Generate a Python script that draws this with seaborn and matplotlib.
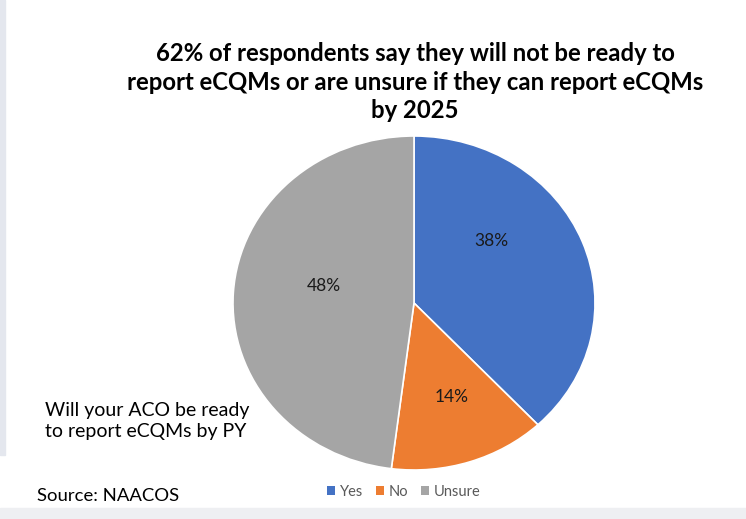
import matplotlib
matplotlib.use("Agg")
import matplotlib.pyplot as plt
import seaborn as sns
from matplotlib.patches import Rectangle

sns.set_theme(style="white")
plt.rcParams['font.family'] = ['Lato', 'DejaVu Sans']

categories = ["Yes", "No", "Unsure"]
values = [38, 14, 48]
pct_labels = ["38%", "14%", "48%"]
title = "62% of respondents say they will not be ready to\nreport eCQMs or are unsure if they can report eCQMs\nby 2025"
question = "Will your ACO be ready\nto report eCQMs by PY"
source = "Source: NAACOS"

colors = ["#4472C4", "#ED7D31", "#A5A5A5"]
label_pos = [(0.43, 0.37), (0.21, -0.56), (-0.50, 0.10)]

W, H = 746, 519
fig = plt.figure(figsize=(W / 100, H / 100), dpi=100)
fig.patch.set_facecolor("white")

# light frame strips
fig.patches.append(Rectangle((0, 0), 1, 11 / H, transform=fig.transFigure, color="#EEEFF2", zorder=0))
fig.patches.append(Rectangle((0, 64 / H), 5 / W, 1 - 64 / H, transform=fig.transFigure, color="#E4E7EE", zorder=0))

cx, cy, rx, ry = 414, 303, 181, 167
ax = fig.add_axes([(cx - rx) / W, (H - cy - ry) / H, 2 * rx / W, 2 * ry / H])
wedges, _ = ax.pie(values, colors=colors, startangle=90, counterclock=False,
                   radius=1, wedgeprops=dict(edgecolor="white", linewidth=1.2))
ax.set_xlim(-1, 1)
ax.set_ylim(-1, 1)
ax.set_aspect("auto")
ax.axis("off")

for (x, y), t in zip(label_pos, pct_labels):
    ax.text(x, y, t, ha="center", va="center", fontsize=12.5, color="#1a1a1a")

fig.text(415 / W, 1 - 82 / H, title, ha="center", va="center", fontsize=17.2,
         fontweight="bold", color="black", linespacing=1.3)
fig.text(45 / W, 1 - 421 / H, question, ha="left", va="center", fontsize=14,
         color="black", linespacing=1.25)
fig.text(37 / W, 1 - 496 / H, source, ha="left", va="center", fontsize=13.3, color="black")

leg = fig.legend(wedges, categories, loc="center", bbox_to_anchor=(404 / W, 1 - 492 / H),
                 ncol=3, frameon=False, fontsize=10.5, handlelength=0.55, handleheight=0.55,
                 handletextpad=0.3, columnspacing=0.9, labelcolor="#595959")
for h in leg.legend_handles:
    h.set_edgecolor("none")

fig.savefig("out.png", dpi=100, facecolor="white")
